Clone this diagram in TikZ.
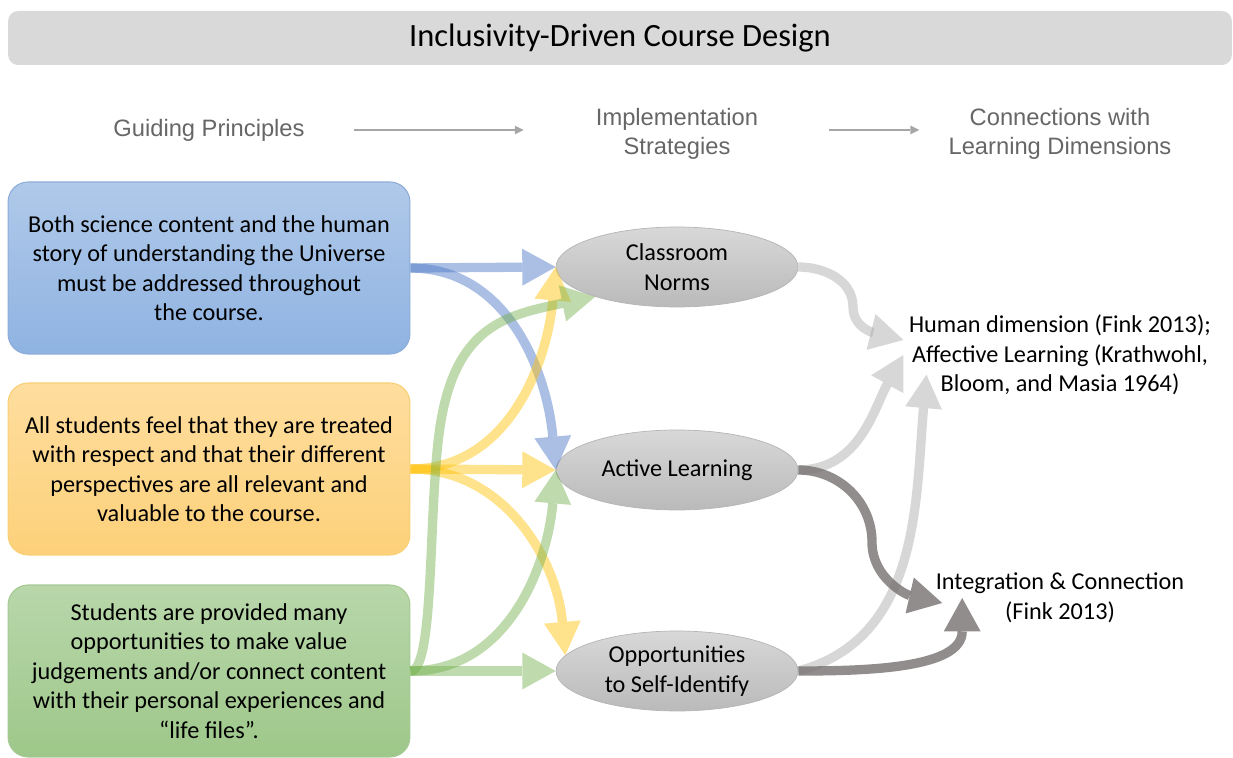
\documentclass[tikz,border=0pt]{standalone}
\usepackage{fontspec}
\setmainfont{Carlito}
\newfontfamily\headfont{Liberation Sans}
\usetikzlibrary{shapes.geometric,arrows.meta}

\definecolor{barfill}{HTML}{D9D9D9}
\definecolor{headtext}{HTML}{666666}
\definecolor{headline}{HTML}{A6A6A6}
\definecolor{bluetop}{HTML}{B0C9E9}
\definecolor{bluebot}{HTML}{8FB3E2}
\definecolor{blueline}{HTML}{8EACD8}
\definecolor{orangetop}{HTML}{FEDD9E}
\definecolor{orangebot}{HTML}{FDD17A}
\definecolor{orangeline}{HTML}{F9CF76}
\definecolor{greentop}{HTML}{B8D7AA}
\definecolor{greenbot}{HTML}{9EC78A}
\definecolor{greenline}{HTML}{A5C993}
\definecolor{elltop}{HTML}{D8D8D8}
\definecolor{ellbot}{HTML}{BABABA}
\definecolor{ellline}{HTML}{B5B5B5}
\definecolor{flowblue}{HTML}{4472C4}
\definecolor{flowyellow}{HTML}{FFC000}
\definecolor{flowgreen}{HTML}{70AD47}
\definecolor{flowlight}{HTML}{A6A6A6}
\definecolor{flowdark}{HTML}{767171}

\tikzset{
  principle/.style={draw, rounded corners=0.4cm, minimum width=8.04cm,
    minimum height=3.44cm, align=center, line width=0.6pt,
    font=\fontsize{13.8}{16.8}\selectfont},
  strategy/.style={ellipse, draw=ellline, top color=elltop, bottom color=ellbot,
    minimum width=4.84cm, minimum height=1.6cm, inner sep=0pt, align=center,
    font=\fontsize{13.8}{16.8}\selectfont},
  dimension/.style={align=center, inner sep=3pt, font=\fontsize{13.8}{16.8}\selectfont},
  heading/.style={text=headtext, align=center, inner sep=0pt,
    font=\headfont\fontsize{13.5}{16.4}\selectfont},
  headarrow/.style={draw=headline, line width=1.1pt,
    -{Triangle[length=5pt,width=5pt,line width=0pt]}},
  flow/.style={line width=5.3pt,
    -{Triangle[length=19pt,width=21pt,line width=0pt]}, opacity=0.45},
}

\begin{document}
\begin{tikzpicture}[x=0.02cm,y=0.02cm]
  \useasboundingbox (0,0) rectangle (1233,757);
  % title bar
  \node[fill=barfill, rounded corners=0.2cm, minimum width=24.48cm, minimum height=1.08cm,
    font=\fontsize{18.5}{22}\selectfont] (title) at (620,719) {Inclusivity-Driven Course Design};
  % column headings
  \node[heading] (guide) at (209,627) {Guiding Principles};
  \node[heading] (impl) at (677,623) {Implementation\\Strategies};
  \node[heading] (conn) at (1060,623) {Connections with\\Learning Dimensions};
  \draw[headarrow, shorten <=0.98cm, shorten >=1.44cm] (guide.east) -- (guide.east -| impl.west);
  \draw[headarrow, shorten <=1.42cm, shorten >=0.58cm] (impl.east |- guide.east) -- (guide.east -| conn.west);
  % guiding principles
  \node[principle, draw=blueline, top color=bluetop, bottom color=bluebot] (science) at (209,489)
    {Both science content and the human\\story of understanding the Universe\\must be addressed throughout\\the course.};
  \node[principle, draw=orangeline, top color=orangetop, bottom color=orangebot] (respect) at (209,288)
    {All students feel that they are treated\\with respect and that their different\\perspectives are all relevant and\\valuable to the course.};
  \node[principle, draw=greenline, top color=greentop, bottom color=greenbot] (value) at (209,86)
    {Students are provided many\\opportunities to make value\\judgements and/or connect content\\with their personal experiences and\\“life files”.};
  % strategies
  \node[strategy] (norms) at (677,490) {Classroom\\Norms};
  \node[strategy] (active) at (677,287) {Active Learning};
  \node[strategy] (selfid) at (677,86) {Opportunities\\to Self-Identify};
  % learning dimensions
  \node[dimension] (human) at (1060,402)
    {Human dimension (Fink 2013);\\Affective Learning (Krathwohl,\\Bloom, and Masia 1964)};
  \node[dimension] (integ) at (1060,159) {Integration \& Connection\\(Fink 2013)};

  % principles -> strategies
  \draw[flow, flowblue] (science.east) -- (norms.west);
  \draw[flow, flowblue] (science.east) to[out=0,in=95] (active.west);
  \draw[flow, flowyellow] (respect.east) to[out=0,in=-95] (norms.west);
  \draw[flow, flowyellow] (respect.east) -- (active.west);
  \draw[flow, flowyellow] (respect.east) to[out=0,in=95] (selfid.172);
  \draw[flow, flowgreen] (value.east) .. controls (435,86) and (428,250) .. (440,330)
    .. controls (455,430) and (505,442) .. (norms.200);
  \draw[flow, flowgreen] (value.east) to[out=0,in=-95] (active.west);
  \draw[flow, flowgreen] (value.east) -- (selfid.west);

  % strategies -> dimensions
  \draw[flow, flowlight] (norms.east) to[out=0,in=90] (853,450)
    to[out=-90,in=166] ([yshift=0.3cm]human.west);
  \draw[flow, flowlight] (active.east) to[out=0,in=-119] (human.west);
  \draw[flow, flowlight] (selfid.east) to[out=15,in=-95] ([shift={(23,26)}]human.south west);
  \draw[flow, flowdark, opacity=0.8] (active.east) to[out=0,in=90] (872,215)
    to[out=-90,in=167] ([shift={(12,-5)}]integ.west);
  \draw[flow, flowdark, opacity=0.8] (selfid.east) to[out=0,in=-90] ([shift={(32,0)}]integ.west);
\end{tikzpicture}
\end{document}
